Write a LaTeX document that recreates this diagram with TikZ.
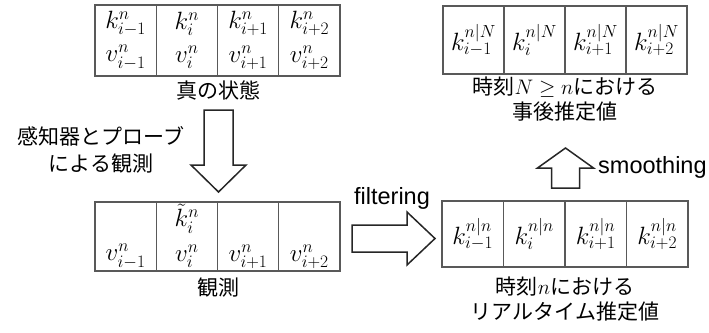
\RequirePackage{fix-cm}
\documentclass[tikz,border=0pt]{standalone}
\usepackage{fontspec}
\newfontfamily\jp{Noto Sans CJK JP}
\newfontfamily\lat{Liberation Sans}
\begin{document}
\begin{tikzpicture}[x=1pt,y=-1pt,
  cellA/.style={draw=black!65, line width=1.3pt, anchor=north west, inner sep=0pt, outer sep=0pt, minimum width=61.25pt, minimum height=71pt},
  cellB/.style={cellA, minimum height=69pt},
  cellC/.style={cellA, minimum width=61pt, minimum height=68pt},
  cellD/.style={cellA, minimum width=61.5pt, minimum height=66pt},
  mth/.style={inner sep=0pt, font=\fontsize{25}{28}\selectfont},
  jlab/.style={inner sep=0pt, font=\jp\fontsize{21}{24}\selectfont},
  elab/.style={inner sep=0pt, font=\lat\fontsize{23.5}{26}\selectfont},
  bigarrow/.style={draw=black!85, line width=1.5pt, fill=white, line join=miter}]
\useasboundingbox (0,0) rectangle (709,332);
% top-left table: true state
\foreach \i/\x in {1/95,2/156.25,3/217.5,4/278.75}{\node[cellA] (t\i) at (\x,5) {};}
\node[mth] (tk1) at ([yshift=17pt]t1.center) {$k^n_{i-1}$};
\node[mth] (tv1) at ([yshift=-17pt]t1.center) {$v^n_{i-1}$};
\node[mth] (tk2) at ([yshift=17pt]t2.center) {$k^n_{i}$};
\node[mth] (tv2) at ([yshift=-17pt]t2.center) {$v^n_{i}$};
\node[mth] (tk3) at ([yshift=17pt]t3.center) {$k^n_{i+1}$};
\node[mth] (tv3) at ([yshift=-17pt]t3.center) {$v^n_{i+1}$};
\node[mth] (tk4) at ([yshift=17pt]t4.center) {$k^n_{i+2}$};
\node[mth] (tv4) at ([yshift=-17pt]t4.center) {$v^n_{i+2}$};
\node[jlab] (ttl) at (218,90) {真の状態};
% bottom-left table: observation
\foreach \i/\x in {1/95,2/156.25,3/217.5,4/278.75}{\node[cellB] (o\i) at (\x,202) {};}
\node[mth] (ok2) at ([yshift=18pt]o2.center) {$\tilde{k}^n_{i}$};
\node[mth] (ov1) at ([yshift=-20pt]o1.center) {$v^n_{i-1}$};
\node[mth] (ov2) at ([yshift=-20pt]o2.center) {$v^n_{i}$};
\node[mth] (ov3) at ([yshift=-20pt]o3.center) {$v^n_{i+1}$};
\node[mth] (ov4) at ([yshift=-20pt]o4.center) {$v^n_{i+2}$};
\node[jlab] (otl) at (218,288) {観測};
% top-right table: smoothed estimate
\foreach \i/\x in {1/443,2/504,3/565,4/626}{\node[cellC] (s\i) at (\x,6) {};}
\node[mth] at (s1.center) {$k^{n|N}_{i-1}$};
\node[mth] at (s2.center) {$k^{n|N}_{i}$};
\node[mth] at (s3.center) {$k^{n|N}_{i+1}$};
\node[mth] at (s4.center) {$k^{n|N}_{i+2}$};
\node[jlab] (stl1) at (565,87) {時刻$N\geq n$における};
\node[jlab] (stl2) at (565,112) {事後推定値};
% bottom-right table: real-time estimate
\foreach \i/\x in {1/442,2/503.5,3/565,4/626.5}{\node[cellD] (f\i) at (\x,201) {};}
\node[mth] at (f1.center) {$k^{n|n}_{i-1}$};
\node[mth] at (f2.center) {$k^{n|n}_{i}$};
\node[mth] at (f3.center) {$k^{n|n}_{i+1}$};
\node[mth] at (f4.center) {$k^{n|n}_{i+2}$};
\node[jlab] (ftl1) at (565,287) {時刻$n$における};
\node[jlab] (ftl2) at (565,312) {リアルタイム推定値};
% hollow arrows
\draw[bigarrow] (204,110) -- (233,110) -- (233,165) -- (246,165) -- (218.5,192) -- (191,165) -- (204,165) -- cycle;
\draw[bigarrow] (352,225) -- (407,225) -- (407,212) -- (435,238.5) -- (407,265) -- (407,252) -- (352,252) -- cycle;
\draw[bigarrow] (551.5,188) -- (551.5,168) -- (537.5,168) -- (565.5,148) -- (593.5,168) -- (579.5,168) -- (579.5,188) -- cycle;
% arrow labels
\node[jlab] (obs1) at (101,136) {感知器とプローブ};
\node[jlab] (obs2) at (101,164) {による観測};
\node[elab] (filt) at (392,198) {filtering};
\node[elab, anchor=west] (smth) at (598,167) {smoothing};
\end{tikzpicture}
\end{document}
